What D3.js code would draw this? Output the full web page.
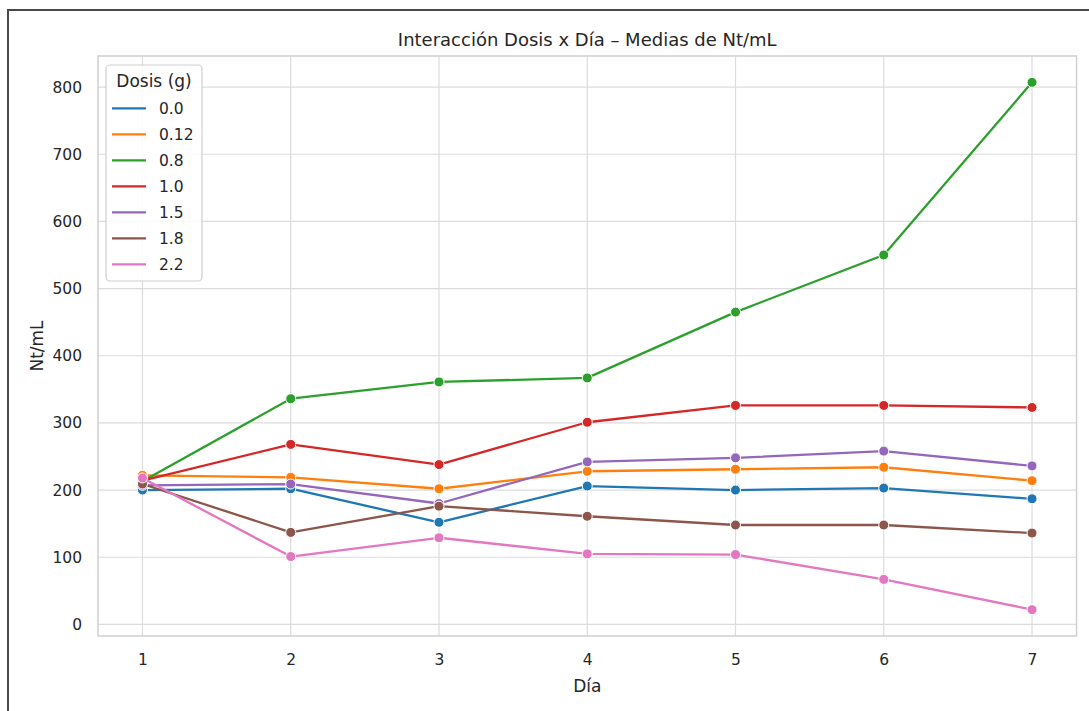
<!DOCTYPE html>
<html>
<head>
<meta charset="utf-8">
<script src="https://cdn.jsdelivr.net/npm/d3@7"></script>
<style>
  html, body { margin: 0; padding: 0; background: #ffffff; }
  svg { display: block; font-family: "DejaVu Sans", sans-serif; }
</style>
</head>
<body>
<svg id="chart" width="1089" height="711"></svg>
<script>
// Mean Nt/mL per day for each dose
const days = [1, 2, 3, 4, 5, 6, 7];
const doses = ["0.0", "0.12", "0.8", "1.0", "1.5", "1.8", "2.2"];
const colors = ["#1f77b4", "#ff7f0e", "#2ca02c", "#d62728", "#9467bd", "#8c564b", "#e377c2"];
const dose0_0  = [200, 202, 152, 206, 200, 203, 187];
const dose0_12 = [222, 219, 202, 228, 231, 234, 214];
const dose0_8  = [213, 336, 361, 367, 465, 550, 807];
const dose1_0  = [214, 268, 238, 301, 326, 326, 323];
const dose1_5  = [207, 209, 180, 242, 248, 258, 236];
const dose1_8  = [209, 137, 176, 161, 148, 148, 136];
const dose2_2  = [218, 101, 129, 105, 104, 67, 22];
const seriesValues = [dose0_0, dose0_12, dose0_8, dose1_0, dose1_5, dose1_8, dose2_2];
const yTicks = [0, 100, 200, 300, 400, 500, 600, 700, 800];

const titleText = "Interacción Dosis x Día – Medias de Nt/mL";
const xLabel = "Día";
const yLabel = "Nt/mL";
const legendTitle = "Dosis (g)";

const svg = d3.select("#chart");
const textColor = "#262626";
const gridColor = "#dcdcdc";

// Plot area
const plotL = 98, plotR = 1076.5, plotT = 56, plotB = 636;

// Outer frame (top and left edges)
svg.append("path")
  .attr("d", `M8,711 L8,10 L1089,10`)
  .attr("fill", "none")
  .attr("stroke", "#4a4a4a")
  .attr("stroke-width", 2);

// Scales with 5% margins, like matplotlib autoscaling
const allVals = seriesValues.flat();
const yMin = d3.min(allVals), yMax = d3.max(allVals);
const yPad = (yMax - yMin) * 0.05;
const x = d3.scaleLinear().domain([0.7, 7.3]).range([plotL, plotR]);
const y = d3.scaleLinear().domain([yMin - yPad, yMax + yPad]).range([plotB, plotT]);

// Gridlines
const grid = svg.append("g");
grid.selectAll("line.gx").data(days).join("line")
  .attr("class", "gx")
  .attr("x1", d => x(d)).attr("x2", d => x(d))
  .attr("y1", plotT).attr("y2", plotB)
  .attr("stroke", gridColor).attr("stroke-width", 1.2);
grid.selectAll("line.gy").data(yTicks).join("line")
  .attr("class", "gy")
  .attr("x1", plotL).attr("x2", plotR)
  .attr("y1", d => y(d)).attr("y2", d => y(d))
  .attr("stroke", gridColor).attr("stroke-width", 1.2);

// Axes (tick labels only, light spines)
const xAxis = svg.append("g")
  .attr("transform", `translate(0,${plotB})`)
  .call(d3.axisBottom(x).tickValues(days).tickFormat(d3.format("d")).tickSize(0).tickPadding(18));
const yAxis = svg.append("g")
  .attr("transform", `translate(${plotL},0)`)
  .call(d3.axisLeft(y).tickValues(yTicks).tickFormat(d3.format("d")).tickSize(0).tickPadding(16));
[xAxis, yAxis].forEach(a => {
  a.select(".domain").remove();
  a.selectAll("text")
    .attr("fill", textColor)
    .style("font-size", "15.5px")
    .style("font-family", "'DejaVu Sans', sans-serif");
});

svg.append("rect")
  .attr("x", plotL).attr("y", plotT)
  .attr("width", plotR - plotL).attr("height", plotB - plotT)
  .attr("fill", "none").attr("stroke", "#d0d0d0").attr("stroke-width", 1.5);

// Series lines and markers
const line = d3.line().x((d, i) => x(days[i])).y(d => y(d));
doses.forEach((dose, k) => {
  const g = svg.append("g");
  g.append("path")
    .datum(seriesValues[k])
    .attr("d", line)
    .attr("fill", "none")
    .attr("stroke", colors[k])
    .attr("stroke-width", 2.3)
    .attr("stroke-linejoin", "round");
  g.selectAll("circle").data(seriesValues[k]).join("circle")
    .attr("cx", (d, i) => x(days[i]))
    .attr("cy", d => y(d))
    .attr("r", 5)
    .attr("fill", colors[k])
    .attr("stroke", "#ffffff")
    .attr("stroke-width", 1);
});

// Title and axis labels
svg.append("text")
  .attr("x", (plotL + plotR) / 2).attr("y", 46)
  .attr("text-anchor", "middle")
  .attr("fill", textColor)
  .style("font-size", "18px")
  .text(titleText);
svg.append("text")
  .attr("x", (plotL + plotR) / 2).attr("y", 692)
  .attr("text-anchor", "middle")
  .attr("fill", textColor)
  .style("font-size", "17px")
  .text(xLabel);
svg.append("text")
  .attr("transform", `translate(43,${(plotT + plotB) / 2}) rotate(-90)`)
  .attr("text-anchor", "middle")
  .attr("fill", textColor)
  .style("font-size", "17px")
  .text(yLabel);

// Legend
const lg = svg.append("g");
lg.append("rect")
  .attr("x", 106).attr("y", 65)
  .attr("width", 96).attr("height", 216)
  .attr("rx", 4)
  .attr("fill", "#ffffff").attr("fill-opacity", 0.85)
  .attr("stroke", "#d0d0d0").attr("stroke-width", 1.2);
lg.append("text")
  .attr("x", 154).attr("y", 86.5)
  .attr("text-anchor", "middle")
  .attr("fill", textColor)
  .style("font-size", "17px")
  .text(legendTitle);
doses.forEach((dose, k) => {
  const cy = 108.3 + k * 26;
  lg.append("line")
    .attr("x1", 112).attr("x2", 146)
    .attr("y1", cy).attr("y2", cy)
    .attr("stroke", colors[k]).attr("stroke-width", 2.3);
  lg.append("text")
    .attr("x", 159).attr("y", cy + 5.5)
    .attr("fill", textColor)
    .style("font-size", "15.5px")
    .text(dose);
});
</script>
</body>
</html>
